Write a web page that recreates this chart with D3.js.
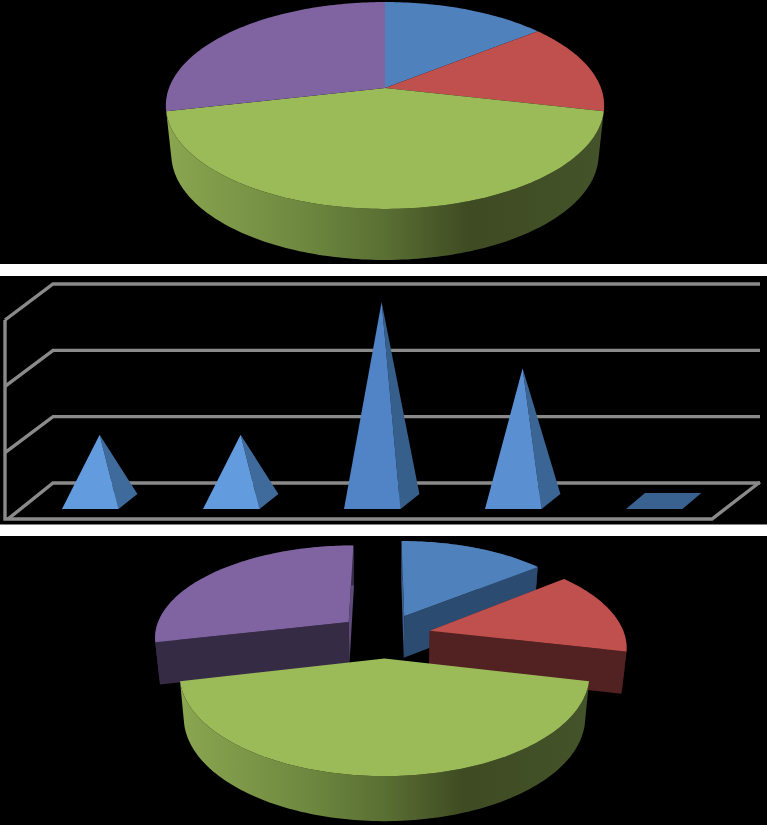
<!DOCTYPE html>
<html>
<head>
<meta charset="utf-8">
<script src="https://cdnjs.cloudflare.com/ajax/libs/d3/7.8.5/d3.min.js"></script>
<style>html,body{margin:0;padding:0;background:#000;overflow:hidden}svg{display:block}</style>
</head>
<body>
<svg id="c" width="767" height="825"></svg>
<script>
const pieValues = [1, 1, 3, 2];
const pieColors = ["#4f81bd", "#c0504d", "#9bbb59", "#8064a2"];
const wallColors = ["#2c4b70", "#522121", "url(#greenWall)", "#352b45"];
const edgeColors = ["#3b628f", "#522121", "#9bbb59", "#5f4b7b"];
const pyramidCategories = ["A", "B", "C", "D", "E"];
const pyramidValues = [1, 1, 3, 2, 0];
const yTicks = [0, 1, 2, 3];

const svg = d3.select("#c");
svg.append("rect").attr("width", 767).attr("height", 825).attr("fill", "#000");

const grad = svg.append("defs").append("linearGradient").attr("id", "greenWall");
[[0, "#8aa650"], [0.3, "#6f8a40"], [0.5, "#5a6f33"], [0.69, "#3f4b22"], [1, "#44532a"]]
  .forEach(([o, c]) => grad.append("stop").attr("offset", o).attr("stop-color", c));

const line = d3.line();
const pie = d3.pie().sort(null)(pieValues);

function projector(o) {
  const plane = (cy, R, H) => (X, Y) => {
    const s = 1 / (1 + o.p * Y);
    return [o.cx + R * X * s, cy - H * Y * s];
  };
  return { top: plane(o.cy, o.R, o.H), bottom: plane(o.cy + o.d, o.R2, o.H2) };
}

function rimPts(plane, a0, a1, ox, oy) {
  const n = Math.max(2, Math.ceil(Math.abs(a1 - a0) / 0.02));
  return d3.range(n + 1).map(i => {
    const a = a0 + (a1 - a0) * i / n;
    return plane(ox + Math.sin(a), oy + Math.cos(a));
  });
}

function drawPie(o) {
  const P = projector(o);
  const g = svg.append("g");
  const order = o.explode ? [0, 3, 1, 2] : [0, 1, 3, 2];
  order.forEach(i => {
    const d = pie[i];
    const mid = (d.startAngle + d.endAngle) / 2;
    const ox = o.explode * Math.sin(mid), oy = o.explode * Math.cos(mid);
    const ends = a => [ox + Math.sin(a), oy + Math.cos(a)];
    // radial side walls, exploded slices only: the wall on the gap facing the back is lit
    if (o.explode && i !== 2) {
      const isGapEdge = a => Math.abs(Math.cos(a)) > 0.999;
      [d.startAngle, d.endAngle].forEach(a => {
        const e = ends(a);
        g.append("path").attr("fill", isGapEdge(a) ? edgeColors[i] : wallColors[i]).attr("d", line([
          P.top(ox, oy), P.top(e[0], e[1]), P.bottom(e[0], e[1]), P.bottom(ox, oy)
        ]) + "Z");
      });
    }
    // outer rim wall
    if (o.explode || i === 2) {
      g.append("path").attr("fill", wallColors[i]).attr("d", line(
        rimPts(P.top, d.startAngle, d.endAngle, ox, oy)
          .concat(rimPts(P.bottom, d.endAngle, d.startAngle, ox, oy))
      ) + "Z");
    }
    if (!o.explode) return;
    g.append("path").attr("fill", pieColors[i]).attr("d", line(
      [P.top(ox, oy)].concat(rimPts(P.top, d.startAngle, d.endAngle, ox, oy))
    ) + "Z");
  });
  if (!o.explode) {
    pie.forEach((d, i) => {
      g.append("path").attr("fill", pieColors[i]).attr("d", line(
        [P.top(0, 0)].concat(rimPts(P.top, d.startAngle, d.endAngle, 0, 0))
      ) + "Z");
    });
  }
}

// top pie
drawPie({ cx: 385, cy: 88, R: 216, H: 100.5, p: 0.169, d: 48.4, R2: 210.6, H2: 102.7, explode: 0 });

// pyramid chart
const x = d3.scaleBand().domain(pyramidCategories).range([5, 710]).paddingInner(0.6).paddingOuter(0.3);
const y = d3.scaleLinear().domain([0, 3]).range([483, 284]);
const frontColor = d3.scaleLinear().domain([1, 2, 3]).range(["#639bdf", "#5a8fd2", "#5084c6"]);
const sideColor = d3.scaleLinear().domain([0, 1, 3]).range(["#3a6291", "#3f6b9c", "#375f8c"]);
const grid = svg.append("g").attr("fill", "none").attr("stroke", "#8a8a8a").attr("stroke-width", 3.4);
yTicks.forEach(t => {
  grid.append("path").attr("d", line([[t === 0 ? 8 : 5, y(t) + 36], [53, y(t)], [760, y(t)]]));
});
grid.append("path").attr("d", line([[5, y(3) + 36], [5, 519], [712, 519], [760, y(0) - 1]]));

const depthShift = 14.7, baseY = 509, backDX = 19, backDY = 16;
const pg = svg.append("g");
pyramidCategories.forEach((c, i) => {
  const v = pyramidValues[i];
  const l = x(c) + depthShift, w = x.bandwidth();
  const apex = [l + w * 0.667, y(v) + 18];
  pg.append("path").attr("fill", sideColor(0)).attr("d", line([
    [l, baseY], [l + w, baseY], [l + w + backDX, baseY - backDY], [l + backDX, baseY - backDY]
  ]) + "Z");
  if (v > 0) {
    pg.append("path").attr("fill", sideColor(v)).attr("d", line([
      [l + w, baseY], [l + w + backDX, baseY - backDY + 1], apex
    ]) + "Z");
    pg.append("path").attr("fill", frontColor(v)).attr("d", line([[l, baseY], [l + w, baseY], apex]) + "Z");
  }
});

// exploded pie
drawPie({ cx: 384.5, cy: 635.5, R: 195, H: 92, p: 0.152, d: 42, R2: 191, H2: 94, explode: 0.24 });

// white separators
[[264, 12], [524.5, 11.5]].forEach(([t, h]) =>
  svg.append("rect").attr("x", 0).attr("y", t).attr("width", 767).attr("height", h).attr("fill", "#fff"));
</script>
</body>
</html>
